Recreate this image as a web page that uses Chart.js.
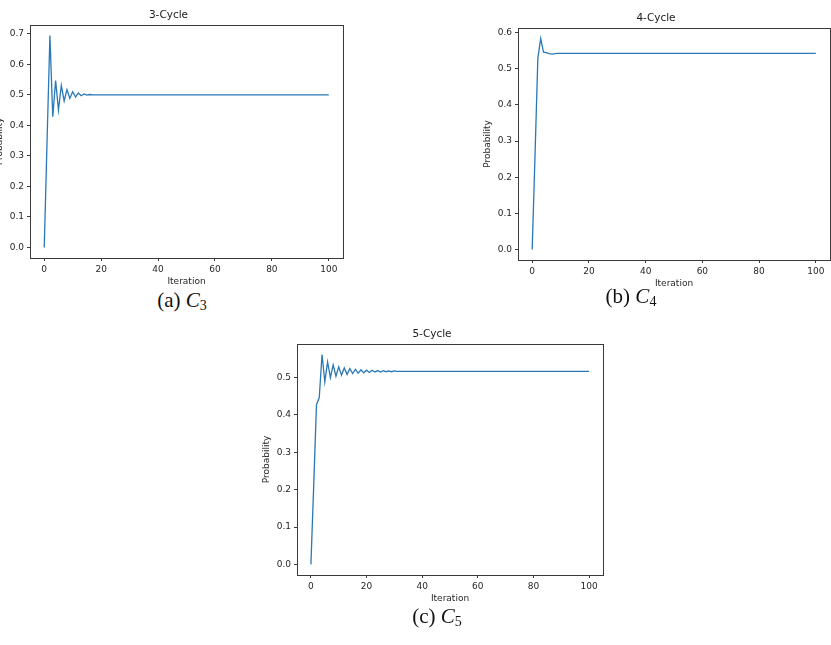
<!DOCTYPE html>
<html>
<head>
<meta charset="utf-8">
<script src="https://cdn.jsdelivr.net/npm/chart.js@4.4.1/dist/chart.umd.min.js"></script>
<style>
  html, body { margin:0; padding:0; background:#fff; width:831px; height:645px; overflow:hidden; position:relative; }
  canvas { position:absolute; }
  .cap { position:absolute; font-family:"Liberation Serif","Times New Roman",serif; font-size:21px; color:#111; white-space:nowrap; transform:translate(-50%,-50%); }
  .cap i { font-style:italic; }
  .cap sub { font-size:14px; vertical-align:-3px; }
</style>
</head>
<body>
<canvas id="c3"></canvas>
<canvas id="c4"></canvas>
<canvas id="c5"></canvas>
<div class="cap" style="left:182px;top:301px;">(a) <i>C</i><sub>3</sub></div>
<div class="cap" style="left:631px;top:297px;">(b) <i>C</i><sub>4</sub></div>
<div class="cap" style="left:437px;top:617px;">(c) <i>C</i><sub>5</sub></div>
<script>
// ---- data ----
const iterations = [0,1,2,3,4,5,6,7,8,9,10,11,12,13,14,15,16,17,18,19,20,21,22,23,24,25,26,27,28,29,30,
  31,32,33,34,35,36,37,38,39,40,41,42,43,44,45,46,47,48,49,50,51,52,53,54,55,56,57,58,59,60,
  61,62,63,64,65,66,67,68,69,70,71,72,73,74,75,76,77,78,79,80,81,82,83,84,85,86,87,88,89,90,
  91,92,93,94,95,96,97,98,99,100];

const cycle3 = [0,0.35,0.694,0.428,0.547,0.45,0.531,0.48,0.517,0.488,
  0.51,0.493,0.506,0.497,0.503,0.499,0.501,0.5,0.5,0.5,
  0.5,0.5,0.5,0.5,0.5,0.5,0.5,0.5,0.5,0.5,
  0.5,0.5,0.5,0.5,0.5,0.5,0.5,0.5,0.5,0.5,
  0.5,0.5,0.5,0.5,0.5,0.5,0.5,0.5,0.5,0.5,
  0.5,0.5,0.5,0.5,0.5,0.5,0.5,0.5,0.5,0.5,
  0.5,0.5,0.5,0.5,0.5,0.5,0.5,0.5,0.5,0.5,
  0.5,0.5,0.5,0.5,0.5,0.5,0.5,0.5,0.5,0.5,
  0.5,0.5,0.5,0.5,0.5,0.5,0.5,0.5,0.5,0.5,
  0.5,0.5,0.5,0.5,0.5,0.5,0.5,0.5,0.5,0.5,
  0.5];

const cycle4 = [0,0.26,0.53,0.584,0.546,0.545,0.542,0.541,0.542,0.543,
  0.543,0.543,0.543,0.543,0.543,0.543,0.543,0.543,0.543,0.543,
  0.543,0.543,0.543,0.543,0.543,0.543,0.543,0.543,0.543,0.543,
  0.543,0.543,0.543,0.543,0.543,0.543,0.543,0.543,0.543,0.543,
  0.543,0.543,0.543,0.543,0.543,0.543,0.543,0.543,0.543,0.543,
  0.543,0.543,0.543,0.543,0.543,0.543,0.543,0.543,0.543,0.543,
  0.543,0.543,0.543,0.543,0.543,0.543,0.543,0.543,0.543,0.543,
  0.543,0.543,0.543,0.543,0.543,0.543,0.543,0.543,0.543,0.543,
  0.543,0.543,0.543,0.543,0.543,0.543,0.543,0.543,0.543,0.543,
  0.543,0.543,0.543,0.543,0.543,0.543,0.543,0.543,0.543,0.543,
  0.543];

const cycle5 = [0,0.21,0.427,0.446,0.561,0.488,0.541,0.499,0.533,0.503,
  0.528,0.506,0.525,0.508,0.523,0.510,0.521,0.511,0.520,0.512,
  0.519,0.513,0.519,0.514,0.518,0.514,0.518,0.515,0.517,0.515,
  0.517,0.516,0.516,0.516,0.516,0.516,0.516,0.516,0.516,0.516,
  0.516,0.516,0.516,0.516,0.516,0.516,0.516,0.516,0.516,0.516,
  0.516,0.516,0.516,0.516,0.516,0.516,0.516,0.516,0.516,0.516,
  0.516,0.516,0.516,0.516,0.516,0.516,0.516,0.516,0.516,0.516,
  0.516,0.516,0.516,0.516,0.516,0.516,0.516,0.516,0.516,0.516,
  0.516,0.516,0.516,0.516,0.516,0.516,0.516,0.516,0.516,0.516,
  0.516,0.516,0.516,0.516,0.516,0.516,0.516,0.516,0.516,0.516,
  0.516];

const xTicks = [0,20,40,60,80,100];
const yTicks3 = [0.0,0.1,0.2,0.3,0.4,0.5,0.6,0.7];
const yTicks4 = [0.0,0.1,0.2,0.3,0.4,0.5,0.6];
const yTicks5 = [0.0,0.1,0.2,0.3,0.4,0.5];
const titles = ["3-Cycle","4-Cycle","5-Cycle"];

// ---- drawing ----
const FONT = "DejaVu Sans";
const frame = {
  id: 'frame',
  afterDraw(chart) {
    const {ctx, chartArea:a} = chart;
    ctx.save();
    ctx.strokeStyle = '#3a3a3a';
    ctx.lineWidth = 1;
    ctx.strokeRect(Math.round(a.left)+0.5, Math.round(a.top)+0.5, Math.round(a.right-a.left), Math.round(a.bottom-a.top));
    ctx.restore();
  }
};

function makeChart(id, box, values, yTicks, title) {
  const Wy = 36, Hx = 30, Tb = 20, padR = box.padR;
  const cv = document.getElementById(id);
  const w = (box.R - box.L) + Wy + padR;
  const h = Tb + (box.B - box.T) + Hx;
  cv.width = w; cv.height = h;
  cv.style.width = w + 'px'; cv.style.height = h + 'px';
  cv.style.left = (box.L - Wy) + 'px';
  cv.style.top = (box.T - Tb) + 'px';
  const ymax = Math.max(...values), ymin = Math.min(...values);
  const m = (ymax - ymin) * 0.05;
  new Chart(cv, {
    type: 'line',
    data: {
      datasets: [{
        data: iterations.map((x, i) => ({x, y: values[i]})),
        borderColor: '#2a78b6',
        borderWidth: 1.3,
        pointRadius: 0,
        tension: 0,
        fill: false
      }]
    },
    options: {
      responsive: false,
      animation: false,
      devicePixelRatio: 1,
      layout: { padding: { left: 0, right: padR, top: 0, bottom: 0 } },
      plugins: {
        legend: { display: false },
        tooltip: { enabled: false },
        title: {
          display: true, text: title, color: '#1a1a1a',
          font: { family: FONT, size: 10.5, weight: 'normal', lineHeight: 1.2 },
          padding: { top: 3.7, bottom: 3.7 }
        }
      },
      scales: {
        x: {
          type: 'linear', min: -5, max: 105,
          afterBuildTicks: s => { s.ticks = xTicks.map(v => ({value: v})); },
          afterFit: s => { s.height = Hx; },
          grid: { drawOnChartArea: false, drawTicks: true, tickLength: 3, color: '#3a3a3a' },
          border: { display: true, color: '#3a3a3a', width: 1 },
          ticks: { color: '#262626', padding: 3, maxRotation: 0, font: { family: FONT, size: 9 } },
          title: { display: true, text: 'Iteration', color: '#262626', padding: { top: 0, bottom: 0.6 },
                   font: { family: FONT, size: 9, lineHeight: 1.2 } }
        },
        y: {
          type: 'linear', min: ymin - m, max: ymax + m,
          afterBuildTicks: s => { s.ticks = yTicks.map(v => ({value: v})); },
          afterFit: s => { s.width = Wy; },
          grid: { drawOnChartArea: false, drawTicks: true, tickLength: 3, color: '#3a3a3a' },
          border: { display: true, color: '#3a3a3a', width: 1 },
          ticks: { color: '#262626', padding: 3, font: { family: FONT, size: 9 },
                   callback: v => Number(v).toFixed(1) },
          title: { display: true, text: 'Probability', color: '#262626', padding: { top: 0.6, bottom: 0 },
                   font: { family: FONT, size: 9, lineHeight: 1.2 } }
        }
      }
    },
    plugins: [frame]
  });
}

makeChart('c3', {L:30, R:343, T:25, B:258, padR:4}, cycle3, yTicks3, titles[0]);
makeChart('c4', {L:518, R:830, T:28, B:260, padR:1}, cycle4, yTicks4, titles[1]);
makeChart('c5', {L:297, R:603, T:344, B:575, padR:4}, cycle5, yTicks5, titles[2]);
</script>
</body>
</html>
